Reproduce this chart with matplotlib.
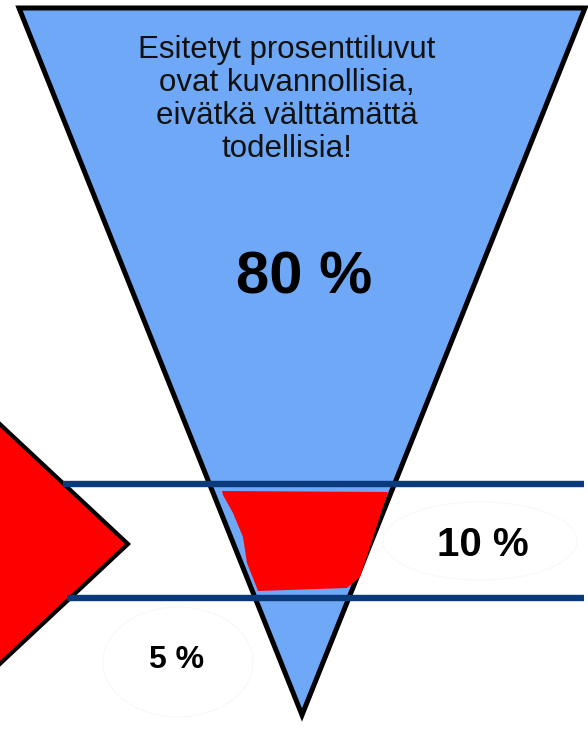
import matplotlib
matplotlib.use("Agg")
import matplotlib.pyplot as plt
from matplotlib.patches import Polygon, Ellipse

# Values shown in the funnel picture
shares = [80, 10, 5]
share_labels = [f"{v} %" for v in shares]
note_lines = ["Esitetyt prosenttiluvut", "ovat kuvannollisia,",
              "eivätkä välttämättä", "todellisia!"]

# Colours
BLUE = "#6ea8f7"
NAVY = "#0b3a7c"
RED = "#ff0000"

plt.rcParams["font.family"] = ["Liberation Sans", "DejaVu Sans"]

fig = plt.figure(figsize=(5.88, 7.42), dpi=100)
ax = fig.add_axes([0, 0, 1, 1])
ax.set_xlim(0, 588)
ax.set_ylim(742, 0)
ax.axis("off")

# funnel (inverted triangle)
funnel = Polygon([(19, 8), (585, 8), (302, 715)], closed=True,
                 facecolor=BLUE, edgecolor="black", linewidth=3.6,
                 joinstyle="miter", zorder=1)
ax.add_patch(funnel)

# red "liquid" part inside the funnel
red_part = Polygon([(222, 491), (388, 492), (382, 510), (370, 547),
                    (360, 577), (347, 588), (258, 591), (247, 563),
                    (243, 537), (233, 513), (223, 495)], closed=True,
                   facecolor=RED, edgecolor="none", zorder=2)
ax.add_patch(red_part)

# red arrow head on the left
arrow = Polygon([(-12, 413), (128, 544), (-12, 675)], closed=True,
                facecolor=RED, edgecolor="black", linewidth=3,
                joinstyle="miter", zorder=1)
ax.add_patch(arrow)

# horizontal bands
ax.plot([63, 584], [484, 484], color=NAVY, linewidth=4.6, zorder=3,
        solid_capstyle="butt")
ax.plot([67, 584], [598, 598], color=NAVY, linewidth=4.6, zorder=3,
        solid_capstyle="butt")

# very faint ellipses behind the small labels
ax.add_patch(Ellipse((480, 541), 194, 78, facecolor="none",
                     edgecolor="#f8f8f8", linewidth=0.8, zorder=0))
ax.add_patch(Ellipse((178, 662), 150, 110, facecolor="none",
                     edgecolor="#f8f8f8", linewidth=0.8, zorder=0))

# note text
for i, line in enumerate(note_lines):
    ax.text(287, 58 + i * 33, line, ha="center", va="baseline",
            fontsize=22.5, color="#111111", zorder=4)

# percentages
ax.text(304, 293, share_labels[0], ha="center", va="baseline",
        fontsize=43, fontweight="bold", color="black", zorder=4)
ax.text(483, 556, share_labels[1], ha="center", va="baseline",
        fontsize=29, fontweight="bold", color="black", zorder=4)
ax.text(177, 668, share_labels[2], ha="center", va="baseline",
        fontsize=23, fontweight="bold", color="black", zorder=4)

fig.savefig("out.png", dpi=100)
